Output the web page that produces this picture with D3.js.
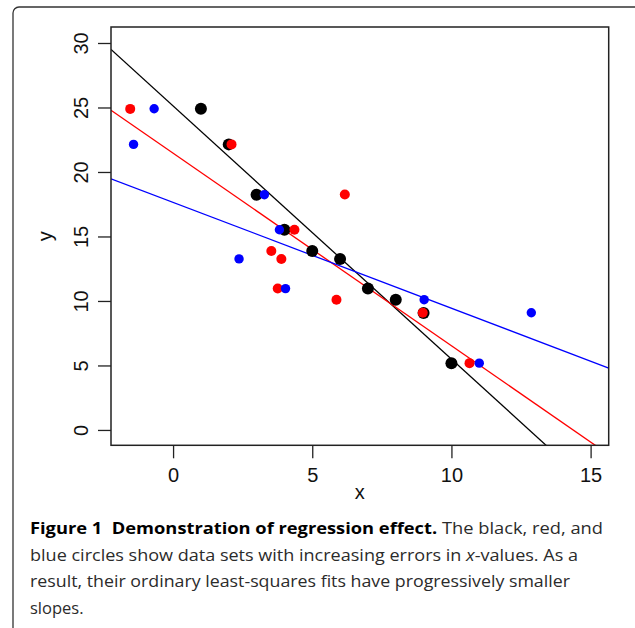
<!DOCTYPE html>
<html>
<head>
<meta charset="utf-8">
<script src="https://cdn.jsdelivr.net/npm/d3@7"></script>
<style>
  html, body { margin: 0; padding: 0; background: #fff; }
  .caption { font-family: "Open Sans", "Noto Sans", sans-serif; font-size: 16.5px; fill: #2b2b2b; white-space: pre; }
  .caption .bold { font-weight: 700; fill: #000; }
</style>
</head>
<body>
<svg id="chart" width="635" height="628"></svg>
<script>
// DATA: three data sets with increasing x-errors
const blackX = [1, 2, 3, 4, 5, 6, 7, 8, 9, 10];
const blackY = [24.9, 22.14, 18.24, 15.52, 13.88, 13.26, 10.96, 10.1, 9.06, 5.18];
const redX = [-1.54, 2.10, 6.17, 4.36, 3.53, 3.89, 3.76, 5.87, 8.97, 10.65];
const redY = [24.89, 22.14, 18.26, 15.52, 13.88, 13.26, 10.96, 10.1, 9.09, 5.18];
const blueX = [-0.68, -1.42, 3.28, 3.82, -3.9, 2.37, 4.04, 9.02, 12.87, 11.0];
const blueY = [24.9, 22.14, 18.24, 15.52, 13.88, 13.26, 10.96, 10.1, 9.09, 5.18];

const xTicks = [0, 5, 10, 15];
const yTicks = [0, 5, 10, 15, 20, 25, 30];

const captionLines = [
  [["bold", "Figure 1  Demonstration of regression effect."], ["", " The black, red, and"]],
  [["", "blue circles show data sets with increasing errors in "], ["italic", "x"], ["", "-values. As a"]],
  [["", "result, their ordinary least-squares fits have progressively smaller"]],
  [["", "slopes."]]
];

// SETUP
const plot = { left: 111, right: 608.7, top: 27, bottom: 445.3 };
const labelFont = "'Liberation Sans', Arial, Helvetica, sans-serif";
const svg = d3.select("#chart");

// outer figure frame (runs off the right and bottom edge)
svg.append("rect")
  .attr("x", 13).attr("y", 7)
  .attr("width", 640).attr("height", 660)
  .attr("rx", 6)
  .attr("fill", "#fff")
  .attr("stroke", "#333")
  .attr("stroke-width", 1.3);

// SCALES
const x = d3.scaleLinear().domain([-2.23, 15.65]).range([plot.left, plot.right]);
const y = d3.scaleLinear().domain([-1.19, 31.24]).range([plot.bottom, plot.top]);

// ordinary least-squares fit
function ols(xs, ys) {
  const mx = d3.mean(xs), my = d3.mean(ys);
  const sxy = d3.sum(xs, (v, i) => (v - mx) * (ys[i] - my));
  const sxx = d3.sum(xs, v => (v - mx) * (v - mx));
  const b = sxy / sxx;
  return { a: my - b * mx, b };
}

const series = [
  { xs: blackX, ys: blackY, color: "#000", r: 6 },
  { xs: redX, ys: redY, color: "#ff0000", r: 5 },
  { xs: blueX, ys: blueY, color: "#0000ff", r: 4.7 }
];

svg.append("clipPath").attr("id", "plotClip")
  .append("rect")
  .attr("x", plot.left).attr("y", plot.top)
  .attr("width", plot.right - plot.left).attr("height", plot.bottom - plot.top);

const g = svg.append("g").attr("clip-path", "url(#plotClip)");

// fit lines
const line = d3.line().x(d => x(d[0])).y(d => y(d[1]));
series.forEach(s => {
  const f = ols(s.xs, s.ys);
  g.append("path")
    .datum(x.domain().map(v => [v, f.a + f.b * v]))
    .attr("fill", "none")
    .attr("stroke", s.color)
    .attr("stroke-width", 1.3)
    .attr("d", line);
});

// points
series.forEach(s => {
  g.selectAll(null)
    .data(s.xs.map((v, i) => [v, s.ys[i]]))
    .join("circle")
    .attr("cx", d => x(d[0]))
    .attr("cy", d => y(d[1]))
    .attr("r", s.r)
    .attr("fill", s.color);
});

// plot box
svg.append("rect")
  .attr("x", plot.left).attr("y", plot.top)
  .attr("width", plot.right - plot.left).attr("height", plot.bottom - plot.top)
  .attr("fill", "none")
  .attr("stroke", "#222")
  .attr("stroke-width", 1.5);

// AXES (font set after .call, since the axis writes its own defaults)
const xAxis = svg.append("g")
  .attr("transform", `translate(0,${plot.bottom})`)
  .call(d3.axisBottom(x).tickValues(xTicks).tickSize(13).tickSizeOuter(0).tickPadding(9.5))
  .attr("font-family", labelFont).attr("font-size", 20);
xAxis.select(".domain").remove();
xAxis.selectAll(".tick line").attr("stroke", "#222").attr("stroke-width", 1.3);
xAxis.selectAll(".tick text").attr("fill", "#111");

const yAxis = svg.append("g")
  .attr("transform", `translate(${plot.left},0)`)
  .call(d3.axisLeft(y).tickValues(yTicks).tickSize(13).tickSizeOuter(0))
  .attr("font-family", labelFont).attr("font-size", 20);
yAxis.select(".domain").remove();
yAxis.selectAll(".tick line").attr("stroke", "#222").attr("stroke-width", 1.3);
yAxis.selectAll(".tick text")
  .attr("x", null).attr("dy", null)
  .attr("fill", "#111")
  .attr("text-anchor", "middle")
  .attr("transform", "translate(-22.7,0) rotate(-90)");

// axis labels
svg.append("text")
  .attr("font-family", labelFont).attr("font-size", 20).attr("fill", "#111")
  .attr("x", (plot.left + plot.right) / 2)
  .attr("y", 499)
  .attr("text-anchor", "middle")
  .text("x");

svg.append("text")
  .attr("font-family", labelFont).attr("font-size", 20).attr("fill", "#111")
  .attr("transform", `translate(52,${(plot.top + plot.bottom) / 2}) rotate(-90)`)
  .attr("text-anchor", "middle")
  .text("y");

// CAPTION
const capWidths = [573, 548, 540, null];
captionLines.forEach((parts, i) => {
  const t = svg.append("text")
    .attr("class", "caption")
    .attr("x", 30)
    .attr("y", 534 + i * 26.6);
  if (capWidths[i]) t.attr("textLength", capWidths[i]).attr("lengthAdjust", "spacingAndGlyphs");
  parts.forEach(([style, txt]) => {
    const sp = t.append("tspan").text(txt);
    if (style === "bold") sp.attr("class", "bold");
    if (style === "italic") sp.attr("font-style", "italic");
  });
});
</script>
</body>
</html>
